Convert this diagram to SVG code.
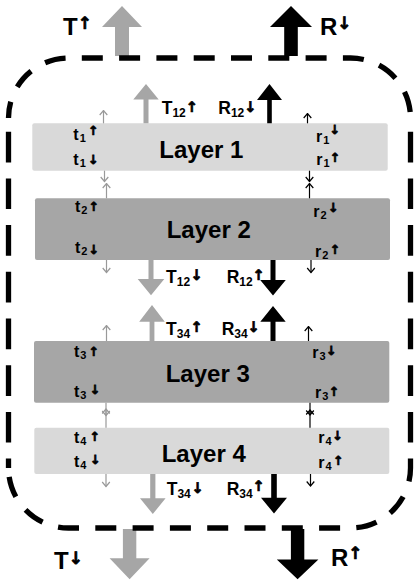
<svg xmlns="http://www.w3.org/2000/svg" width="416" height="582" viewBox="0 0 416 582">
<style>
.frame{fill:none;stroke:#000;stroke-width:5.3}
.light{fill:#d9d9d9}
.dark{fill:#a6a6a6}
.bg{fill:#a6a6a6}
.bk{fill:#000}
.tg{fill:none;stroke:#999;stroke-width:1.2;marker-end:url(#chG)}
.tk{fill:none;stroke:#000;stroke-width:1.2;marker-end:url(#chK)}
text{font-family:"Liberation Sans",Arial,sans-serif;font-weight:bold;fill:#000}
.big{font-size:24px}
.lay{font-size:24px}
.med{font-size:17.5px}
.sm{font-size:16px}
.s1{font-size:12px}
.s2{font-size:11px}
.a{font-family:"DejaVu Sans",sans-serif;font-weight:bold;stroke:#000;stroke-width:0.7}
.a1{font-size:17px}
.a2{font-size:14.5px}
.a3{font-size:12.5px}
</style>
<defs>
<marker id="chG" viewBox="-6 -5 7 10" refX="0" refY="0" markerWidth="7" markerHeight="10" orient="auto" markerUnits="userSpaceOnUse"><path d="M-4.5,-3.8 L0,0 L-4.5,3.8" fill="none" stroke="#999" stroke-width="1.2"/></marker>
<marker id="chK" viewBox="-6 -5 7 10" refX="0" refY="0" markerWidth="7" markerHeight="10" orient="auto" markerUnits="userSpaceOnUse"><path d="M-4.5,-3.8 L0,0 L-4.5,3.8" fill="none" stroke="#000" stroke-width="1.2"/></marker>
</defs>

<g id="layer1">
<rect class="light" x="32.3" y="123.3" width="355.4" height="47.4" rx="2"/>
<text class="lay" x="159.3" y="157.5">Layer 1</text>
<text class="sm"><tspan x="73.3" y="140">t</tspan><tspan class="s2" dx="1" dy="2">1</tspan><tspan class="a a3" x="88" y="135.2">↑</tspan></text>
<text class="sm"><tspan x="73.3" y="165">t</tspan><tspan class="s2" dx="1" dy="2">1</tspan><tspan class="a a3" x="88" y="163.5">↓</tspan></text>
<text class="sm"><tspan x="316" y="141.5">r</tspan><tspan class="s2" dx="1" dy="2">1</tspan><tspan class="a a3" x="329.4" y="134.3">↓</tspan></text>
<text class="sm"><tspan x="316.3" y="165">r</tspan><tspan class="s2" dx="1" dy="2">1</tspan><tspan class="a a3" x="329.7" y="161.8">↑</tspan></text>
</g>

<g id="layer2">
<rect class="dark" x="35" y="198.3" width="355" height="61.7" rx="2"/>
<text class="lay" x="166.7" y="238.3">Layer 2</text>
<text class="sm"><tspan x="75" y="211.7">t</tspan><tspan class="s2" dx="1" dy="2">2</tspan><tspan class="a a3" x="88.5" y="211">↑</tspan></text>
<text class="sm"><tspan x="75" y="253">t</tspan><tspan class="s2" dx="1" dy="2">2</tspan><tspan class="a a3" x="88.5" y="253.5">↓</tspan></text>
<text class="sm"><tspan x="313.3" y="216.7">r</tspan><tspan class="s2" dx="1" dy="2">2</tspan><tspan class="a a3" x="328" y="211.8">↓</tspan></text>
<text class="sm"><tspan x="315" y="256.7">r</tspan><tspan class="s2" dx="1" dy="2">2</tspan><tspan class="a a3" x="329.7" y="254.1">↑</tspan></text>
</g>

<g id="layer3">
<rect class="dark" x="34" y="341" width="355.3" height="61.7" rx="2"/>
<text class="lay" x="165.7" y="381.7">Layer 3</text>
<text class="sm"><tspan x="74" y="356.7">t</tspan><tspan class="s2" dx="1" dy="2">3</tspan><tspan class="a a3" x="88.5" y="356">↑</tspan></text>
<text class="sm"><tspan x="74" y="396.7">t</tspan><tspan class="s2" dx="1" dy="2">3</tspan><tspan class="a a3" x="89.7" y="394.3">↓</tspan></text>
<text class="sm"><tspan x="312.3" y="358.3">r</tspan><tspan class="s2" dx="1" dy="2">3</tspan><tspan class="a a3" x="326" y="355.1">↓</tspan></text>
<text class="sm"><tspan x="315" y="398.3">r</tspan><tspan class="s2" dx="1" dy="2">3</tspan><tspan class="a a3" x="328.7" y="396">↑</tspan></text>
</g>

<g id="layer4">
<rect class="light" x="34.3" y="427.7" width="355" height="46.3" rx="2"/>
<text class="lay" x="161.7" y="461.7">Layer 4</text>
<text class="sm"><tspan x="74" y="443.3">t</tspan><tspan class="s2" dx="1" dy="2">4</tspan><tspan class="a a3" x="89.4" y="441">↑</tspan></text>
<text class="sm"><tspan x="74" y="467">t</tspan><tspan class="s2" dx="1" dy="2">4</tspan><tspan class="a a3" x="90" y="463.5">↓</tspan></text>
<text class="sm"><tspan x="318.3" y="443.3">r</tspan><tspan class="s2" dx="1" dy="2">4</tspan><tspan class="a a3" x="332.2" y="440.1">↓</tspan></text>
<text class="sm"><tspan x="318.3" y="468">r</tspan><tspan class="s2" dx="1" dy="2">4</tspan><tspan class="a a3" x="333" y="465.1">↑</tspan></text>
</g>

<g id="connectors">
<polygon class="bg" points="122,6 142,27 129,27 129,56 115,56 115,27 102,27"/>
<polygon class="bk" points="291,6 312,27 297.8,27 297.8,56 284.2,56 284.2,27 270,27"/>
<polygon class="bg" points="146,84 158.7,99.5 148.5,99.5 148.5,123.3 143.5,123.3 143.5,99.5 133.3,99.5"/>
<polygon class="bk" points="269.5,84 282,100 271.8,100 271.8,123.3 267.2,123.3 267.2,100 257,100"/>
<polygon class="bg" points="151,295.3 164.3,279 153.5,279 153.5,260 148.5,260 148.5,279 137.7,279"/>
<polygon class="bk" points="273,295.5 285.8,280 275.5,280 275.5,260 270.5,260 270.5,280 260.2,280"/>
<polygon class="bg" points="152,305 164.8,321.7 154.4,321.7 154.4,341 149.6,341 149.6,321.7 139.2,321.7"/>
<polygon class="bk" points="273,306 285.7,321.7 275.5,321.7 275.5,341 270.5,341 270.5,321.7 260.3,321.7"/>
<polygon class="bg" points="152.8,514 165.6,498.3 155.4,498.3 155.4,474 150.2,474 150.2,498.3 140,498.3"/>
<polygon class="bk" points="274,513.5 287,497.7 276.8,497.7 276.8,474 271.2,474 271.2,497.7 261,497.7"/>
<polygon class="bg" points="129.6,579.3 149.6,558.3 136.3,558.3 136.3,529 122.9,529 122.9,558.3 109.6,558.3"/>
<polygon class="bk" points="297.6,579.3 318.4,559.5 304.3,559.5 304.3,529 290.9,529 290.9,559.5 276.8,559.5"/>
<path class="tg" d="M103.5,123.3 V110.5"/>
<path class="tg" d="M104.5,170.7 V181.5"/>
<path class="tg" d="M106.5,198.3 V183.5"/>
<path class="tg" d="M106.5,260 V272.5"/>
<path class="tg" d="M106.5,341 V325.5"/>
<path class="tg" d="M106,402.7 V415.5"/>
<path class="tg" d="M106,427.7 V409"/>
<path class="tg" d="M106,474 V486.5"/>
<path class="tk" d="M307.5,123.3 V113.5"/>
<path class="tk" d="M309.5,170.7 V181.5"/>
<path class="tk" d="M309.5,198.3 V183.5"/>
<path class="tk" d="M311,260 V272.5"/>
<path class="tk" d="M308.5,341 V326.5"/>
<path class="tk" d="M310,402.7 V415"/>
<path class="tk" d="M310,427.7 V410"/>
<path class="tk" d="M310.5,474 V486"/>
</g>

<g id="frame">
<path class="frame" stroke-dasharray="21 16.3" stroke-dashoffset="4.5" d="M8.5,118 A60,60 0 0 1 68.5,58 H350.5 A60,60 0 0 1 410.5,118"/>
<path class="frame" stroke-dasharray="30.7 16" stroke-dashoffset="33" d="M8.5,118 V468"/>
<path class="frame" stroke-dasharray="30.7 16" stroke-dashoffset="33" d="M410.5,118 V468"/>
<path class="frame" stroke-dasharray="21 16.3" stroke-dashoffset="28.3" d="M8.5,468 A60,60 0 0 0 68.5,528 H350.5 A60,60 0 0 0 410.5,468"/>
</g>

<g id="labels">
<text class="big"><tspan x="63" y="35">T</tspan><tspan class="a a1" x="77.7" y="29">↑</tspan></text>
<text class="big"><tspan x="320" y="35">R</tspan><tspan class="a a1" x="337.3" y="29">↓</tspan></text>
<text class="big"><tspan x="54" y="568.5">T</tspan><tspan class="a a1" x="68.7" y="564">↓</tspan></text>
<text class="big"><tspan x="331" y="566">R</tspan><tspan class="a a1" x="348.3" y="559">↑</tspan></text>
<text class="med"><tspan x="161.7" y="114">T</tspan><tspan class="s1" dy="2.7">12</tspan><tspan class="a a2" x="185.7" y="112">↑</tspan></text>
<text class="med"><tspan x="218.3" y="114">R</tspan><tspan class="s1" dy="2.7">12</tspan><tspan class="a a2" x="244.2" y="112">↓</tspan></text>
<text class="med"><tspan x="166" y="283">T</tspan><tspan class="s1" dy="2.7">12</tspan><tspan class="a a2" x="190.6" y="280.3">↓</tspan></text>
<text class="med"><tspan x="226.7" y="283">R</tspan><tspan class="s1" dy="2.7">12</tspan><tspan class="a a2" x="252.6" y="279.5">↑</tspan></text>
<text class="med"><tspan x="166" y="335">T</tspan><tspan class="s1" dy="2.7">34</tspan><tspan class="a a2" x="190.6" y="332">↑</tspan></text>
<text class="med"><tspan x="221.7" y="335">R</tspan><tspan class="s1" dy="2.7">34</tspan><tspan class="a a2" x="247.6" y="332.1">↓</tspan></text>
<text class="med"><tspan x="166.7" y="495">T</tspan><tspan class="s1" dy="2.7">34</tspan><tspan class="a a2" x="191.4" y="492.8">↓</tspan></text>
<text class="med"><tspan x="226.7" y="495">R</tspan><tspan class="s1" dy="2.7">34</tspan><tspan class="a a2" x="252.6" y="491.1">↑</tspan></text>
</g>
</svg>
